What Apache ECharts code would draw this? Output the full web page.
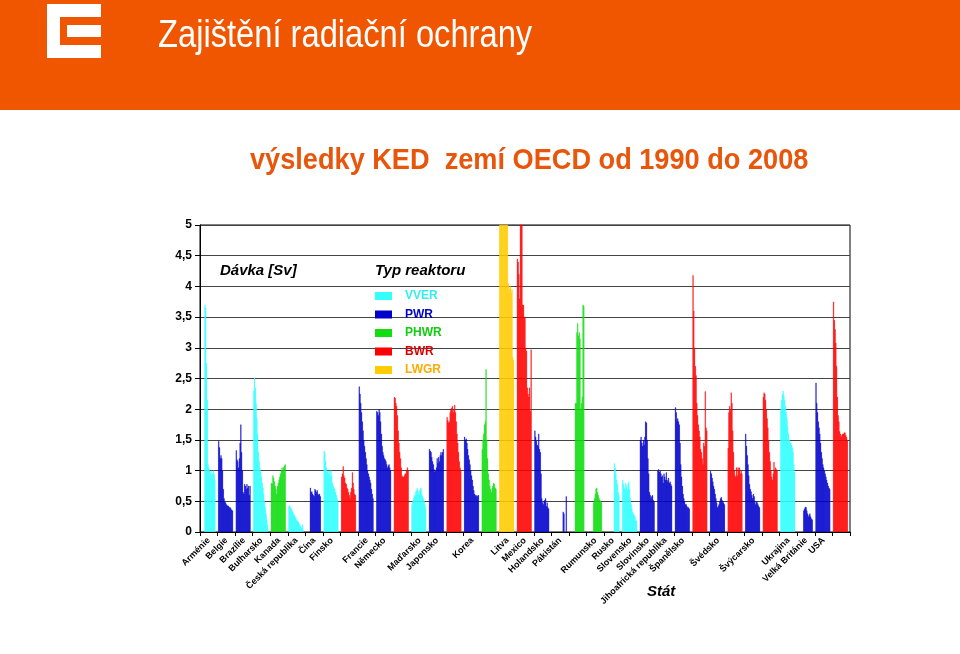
<!DOCTYPE html>
<html>
<head>
<meta charset="utf-8">
<script src="https://cdn.jsdelivr.net/npm/echarts@6/dist/echarts.min.js"></script>
<style>
  html, body { margin: 0; padding: 0; background: #fff; }
  #chart { width: 960px; height: 654px; }
</style>
</head>
<body>
<div id="chart"></div>
<script>
// popisky pod osou x (prázdné = druhý typ reaktoru téže země)
var zeme = ['Arménie', 'Belgie', 'Brazílie', 'Bulharsko', 'Kanada', 'Česká republika', 'Čína', 'Finsko', '',
  'Francie', 'Německo', '', 'Maďarsko', 'Japonsko', '', 'Korea', '', 'Litva', 'Mexico', 'Holandsko',
  'Pákistán', '', 'Rumunsko', 'Rusko', 'Slovensko', 'Slovinsko', 'Jihoafrická republika', 'Španělsko', '',
  'Švédsko', '', 'Švýcarsko', '', 'Ukrajina', 'Velká Británie', 'USA', ''];
var typZeme = ['VVER', 'PWR', 'PWR', 'VVER', 'PHWR', 'VVER', 'PWR', 'VVER', 'BWR',
  'PWR', 'PWR', 'BWR', 'VVER', 'PWR', 'BWR', 'PWR', 'PHWR', 'LWGR', 'BWR', 'PWR',
  'PWR', 'PHWR', 'PHWR', 'VVER', 'VVER', 'PWR', 'PWR', 'PWR', 'BWR',
  'PWR', 'BWR', 'PWR', 'BWR', 'VVER', 'PWR', 'PWR', 'BWR'];
var typy = ['VVER', 'PWR', 'PHWR', 'BWR', 'LWGR'];

// KED [Sv] po letech 1990 - 2008
var armenie = [null, null, null, null, null, 3.7, 3.65, 2.75, 2.15, 1.1, 1.05, 1.0, 0.95, 1.0, 0.9, 0.95, 1.0, 0.95, 0.85];
var belgie = [1.48, 1.38, 1.2, 1.25, 1.2, 1.0, 0.7, 0.55, 0.5, 0.48, 0.45, 0.43, 0.43, 0.42, 0.4, 0.4, 0.38, 0.36, 0.35];
var brazilie = [1.33, 1.18, 1.15, 1.05, 1.2, 1.45, 1.75, 1.3, 1.0, 0.65, 0.62, 0.78, 0.75, 0.7, 0.78, 0.72, 0.75, 0.6, 0.75];
var bulharsko = [2.3, 2.52, 2.35, 2.1, 1.85, 1.6, 1.3, 1.15, 1.05, 0.98, 0.9, 0.8, 0.72, 0.62, 0.5, 0.4, 0.3, 0.2, 0.12];
var kanada = [0.8, 0.78, 0.92, 0.88, 0.82, 0.75, 0.7, 0.62, 0.75, 0.8, 0.85, 0.9, 0.95, 1.0, 1.05, 1.0, 1.05, 1.08, 1.1];
var cesko = [0.42, 0.43, 0.4, 0.38, 0.35, 0.33, 0.3, 0.28, 0.25, 0.23, 0.2, 0.18, 0.17, 0.15, 0.13, 0.1, 0.08, 0.06, 0.12];
var cina = [null, null, null, null, null, 0.72, 0.65, 0.66, 0.62, 0.6, 0.58, 0.7, 0.68, 0.65, 0.68, 0.62, 0.6, 0.62, 0.58];
var finskoVVER = [1.32, 1.28, 1.15, 1.05, 0.98, 1.0, 0.95, 1.0, 0.9, 1.0, 0.92, 0.8, 0.75, 0.72, 0.7, 0.65, 0.6, 0.55, 0.5];
var finskoBWR = [0.9, 0.95, 1.07, 0.92, 0.88, 0.8, 0.78, 0.72, 0.7, 0.65, 0.6, 0.55, 0.65, 0.72, 0.97, 0.8, 0.7, 0.62, 0.6];
var francie = [2.37, 2.25, 2.1, 1.95, 1.8, 1.65, 1.5, 1.4, 1.3, 1.2, 1.1, 1.0, 0.95, 0.9, 0.85, 0.8, 0.7, 0.62, 0.55];
var nemeckoPWR = [1.97, 1.95, 1.9, 2.0, 1.95, 1.8, 1.6, 1.4, 1.3, 1.25, 1.2, 1.18, 1.15, 1.1, 1.05, 1.08, 1.1, 1.05, 1.0];
var nemeckoBWR = [2.2, 2.18, 2.1, 2.05, 1.9, 1.65, 1.45, 1.3, 1.2, 1.05, 0.92, 0.9, 0.9, 0.92, 0.95, 0.95, 1.0, 1.05, 1.0];
var madarsko = [0.45, 0.5, 0.55, 0.6, 0.58, 0.65, 0.68, 0.72, 0.65, 0.6, 0.68, 0.72, 0.7, 0.62, 0.58, 0.55, 0.5, 0.45, 0.4];
var japonskoPWR = [1.35, 1.32, 1.3, 1.22, 1.15, 1.1, 1.02, 0.98, 1.0, 1.05, 1.2, 1.12, 1.22, 1.15, 1.25, 1.3, 1.25, 1.3, 1.35];
var japonskoBWR = [1.87, 1.82, 1.78, 1.8, 1.95, 2.0, 2.02, 2.05, 1.95, 2.0, 2.07, 1.95, 1.8, 1.6, 1.45, 1.3, 1.15, 1.05, 1.0];
var koreaPWR = [1.55, 1.5, 1.52, 1.45, 1.35, 1.25, 1.18, 1.1, 1.0, 0.92, 0.85, 0.75, 0.68, 0.62, 0.6, 0.58, 0.6, 0.58, 0.6];
var koreaPHWR = [1.35, 1.5, 1.6, 1.75, 1.8, 2.65, 1.5, 1.2, 0.95, 0.85, 0.75, 0.7, 0.65, 0.72, 0.75, 0.8, 0.78, 0.72, 0.7];
var litva = [6.5, 7.2, 8.0, 7.5, 7.0, 6.8, 6.2, 6.0, 5.8, 5.5, 5.2, 4.05, 4.0, 3.95, 4.0, 3.9, 3.95, 2.85, 2.8];
var mexiko = [4.45, 4.4, 4.2, 3.8, 5.5, 5.6, 5.3, 3.7, 3.7, 3.5, 3.5, 3.0, 2.95, 2.35, 2.25, 2.2, 2.35, 1.97, 2.97];
var holandsko = [1.65, 1.55, 1.48, 1.42, 1.4, 1.6, 1.35, 1.3, 0.95, 0.55, 0.48, 0.45, 0.5, 0.52, 0.55, 0.42, 0.48, 0.4, 0.38];
var pakistanPWR = [null, null, null, null, null, null, null, null, null, null, null, null, null, null, 0.33, 0.3, null, null, 0.58];
var pakistanPHWR = [null, null, null, null, null, null, null, 2.1, 2.1, 3.25, 3.4, 3.2, 3.25, 3.15, 2.0, 2.1, 2.2, 3.7, 3.68];
var rumunsko = [null, null, null, null, null, null, null, null, 0.48, 0.55, 0.62, 0.7, 0.72, 0.65, 0.6, 0.55, 0.52, 0.5, 0.48];
var rusko = [null, null, null, null, null, null, null, null, null, null, null, null, 1.12, 1.05, 0.95, 0.85, 0.78, 0.65, 0.6];
var slovensko = [0.85, 0.78, 0.72, 0.7, 0.8, 0.75, 0.68, 0.78, 0.82, 0.7, 0.55, 0.45, 0.38, 0.32, 0.3, 0.28, 0.25, 0.2, 0.18];
var slovinsko = [1.5, 1.55, 1.45, 1.4, 1.5, 1.42, 1.55, 1.8, 1.78, 1.5, 1.2, 0.95, 0.65, 0.6, 0.55, 0.58, 0.6, 0.52, 0.5];
var jar = [1.0, 1.02, 0.98, 1.0, 0.95, 0.9, 0.92, 0.8, 0.95, 0.9, 0.85, 0.97, 0.85, 0.82, 0.88, 0.8, 0.82, 0.78, 0.75];
var spanelskoPWR = [2.03, 1.95, 1.82, 1.85, 1.8, 1.75, 1.45, 1.1, 0.9, 0.75, 0.62, 0.55, 0.5, 0.45, 0.45, 0.42, 0.4, 0.4, 0.38];
var spanelskoBWR = [4.18, 3.6, 3.0, 2.7, 2.55, 2.1, 1.9, 1.75, 1.65, 1.55, 1.35, 1.3, 1.2, 1.1, 1.45, 1.4, 2.29, 1.7, 1.65];
var svedskoPWR = [0.99, 0.95, 0.88, 0.82, 0.75, 0.7, 0.62, 0.55, 0.48, 0.4, 0.42, 0.45, 0.5, 0.55, 0.57, 0.52, 0.5, 0.48, 0.45];
var svedskoBWR = [1.37, 1.95, 2.05, 1.98, 2.27, 2.1, 1.65, 1.3, 1.0, 0.92, 0.9, 1.05, 0.92, 1.05, 1.0, 1.05, 0.95, 1.0, 0.95];
var svycarskoPWR = [1.6, 1.4, 1.25, 1.1, 0.92, 0.78, 0.7, 0.66, 0.6, 0.55, 0.62, 0.58, 0.5, 0.45, 0.5, 0.48, 0.45, 0.42, 0.4];
var svycarskoBWR = [2.2, 2.27, 2.25, 2.15, 2.0, 1.85, 1.7, 1.5, 1.3, 1.15, 1.0, 0.9, 0.85, 0.95, 1.14, 1.0, 1.05, 1.02, 1.0];
var ukrajina = [2.0, 2.15, 2.25, 2.3, 2.22, 2.15, 2.05, 1.95, 1.85, 1.72, 1.6, 1.5, 1.45, 1.45, 1.42, 1.38, 1.3, 1.1, 0.98];
var velkaBritanie = [null, null, null, null, null, null, null, 0.35, 0.38, 0.41, 0.4, 0.35, 0.3, 0.25, 0.28, 0.3, 0.25, 0.22, 0.2];
var usaPWR = [2.43, 2.1, 1.95, 1.8, 1.7, 1.6, 1.45, 1.3, 1.2, 1.1, 1.05, 1.0, 0.95, 0.9, 0.85, 0.8, 0.75, 0.72, 0.7];
var usaBWR = [3.75, 3.45, 3.3, 3.08, 2.7, 2.2, 1.9, 1.8, 1.64, 1.6, 1.55, 1.58, 1.6, 1.6, 1.62, 1.62, 1.58, 1.55, 1.5];

var hodnoty = [armenie, belgie, brazilie, bulharsko, kanada, cesko, cina, finskoVVER, finskoBWR,
  francie, nemeckoPWR, nemeckoBWR, madarsko, japonskoPWR, japonskoBWR, koreaPWR, koreaPHWR, litva, mexiko, holandsko,
  pakistanPWR, pakistanPHWR, rumunsko, rusko, slovensko, slovinsko, jar, spanelskoPWR, spanelskoBWR,
  svedskoPWR, svedskoBWR, svycarskoPWR, svycarskoBWR, ukrajina, velkaBritanie, usaPWR, usaBWR];

var barvy = { VVER: '#33FFFF', PWR: '#0000CC', PHWR: '#11DD11', BWR: '#FF0000', LWGR: '#FFCC00' };
var barvyTextu = { VVER: '#33EEEE', PWR: '#0000CC', PHWR: '#11CC11', BWR: '#DD0000', LWGR: '#FFAA00' };

var ROKY = 19, MEZERA_L = 1, SLOTY = 23;   // 1 + 19 let + 3 mezera v každé zemi
var sloty = [];
for (var i = 0; i < zeme.length * SLOTY; i++) sloty.push(i);

var series = typy.map(function (t) {
  var data = [];
  zeme.forEach(function (z, c) {
    for (var s = 0; s < SLOTY; s++) {
      var k = s - MEZERA_L;
      data.push(typZeme[c] === t && k >= 0 && k < ROKY ? hodnoty[c][k] : null);
    }
  });
  return {
    name: t,
    type: 'bar',
    xAxisIndex: 1,
    barGap: '-100%',
    barCategoryGap: '0%',
    clip: true,
    itemStyle: { color: barvy[t], borderColor: barvy[t], borderWidth: 0.3 },
    data: data
  };
});

var chart = echarts.init(document.getElementById('chart'));
chart.setOption({
  animation: false,
  graphic: [
    { type: 'rect', shape: { x: 0, y: 0, width: 960, height: 110 }, style: { fill: '#F05600' }, z: -10 },
    { type: 'rect', shape: { x: 47, y: 4, width: 54, height: 13 }, style: { fill: '#fff' } },
    { type: 'rect', shape: { x: 47, y: 4, width: 13, height: 54 }, style: { fill: '#fff' } },
    { type: 'rect', shape: { x: 47, y: 45, width: 54, height: 13 }, style: { fill: '#fff' } },
    { type: 'rect', shape: { x: 67, y: 25, width: 34, height: 12 }, style: { fill: '#fff' } },
    // úzké písmo (Arial Narrow) není k dispozici, proto horizontální zúžení
    { type: 'text', x: 158, y: 18, scaleX: 0.86,
      style: { text: 'Zajištění radiační ochrany', fill: '#fff', font: '38px Liberation Sans' } },
    { type: 'text', x: 250, y: 146, scaleX: 0.905,
      style: { text: 'výsledky KED  zemí OECD od 1990 do 2008', fill: '#E8560C', font: 'bold 30px Liberation Sans' } },
    { type: 'text', left: 220, top: 263, style: { text: 'Dávka [Sv]', fill: '#000', font: 'italic bold 15px Liberation Sans' } },
    { type: 'text', left: 375, top: 263, style: { text: 'Typ reaktoru', fill: '#000', font: 'italic bold 15px Liberation Sans' } },
    { type: 'text', left: 647, top: 584, style: { text: 'Stát', fill: '#000', font: 'italic bold 15px Liberation Sans' } }
  ],
  legend: {
    orient: 'vertical',
    left: 375, top: 289,
    padding: 0,
    icon: 'rect',
    itemWidth: 15, itemHeight: 6, itemGap: 4.5,
    selectedMode: false,
    textStyle: { fontSize: 12, fontWeight: 'bold', fontFamily: 'Liberation Sans', lineHeight: 14, padding: [0, 0, 0, 9] },
    data: typy.map(function (t) {
      return { name: t, textStyle: { color: barvyTextu[t] } };
    })
  },
  grid: { left: 200, right: 110, top: 225, bottom: 122, show: true, borderColor: '#000', borderWidth: 1 },
  xAxis: [{
    type: 'category',
    data: zeme,
    axisLine: { lineStyle: { color: '#000' } },
    axisTick: { show: true, interval: 0, length: 4, lineStyle: { color: '#000' } },
    axisLabel: { interval: 0, rotate: 45, margin: 7, color: '#000', fontSize: 9, fontWeight: 'bold', fontFamily: 'Liberation Sans' },
    z: 10
  }, {
    type: 'category',
    data: sloty,
    show: false
  }],
  yAxis: {
    type: 'value',
    min: 0, max: 5, interval: 0.5,
    axisLine: { show: true, lineStyle: { color: '#000' } },
    axisTick: { show: true, length: 5, lineStyle: { color: '#000' } },
    axisLabel: {
      color: '#000', fontSize: 12, fontWeight: 'bold', fontFamily: 'Liberation Sans', margin: 8,
      formatter: function (v) { return String(v).replace('.', ','); }
    },
    splitLine: { lineStyle: { color: '#444', width: 1 } }
  },
  series: series
});
</script>
</body>
</html>
